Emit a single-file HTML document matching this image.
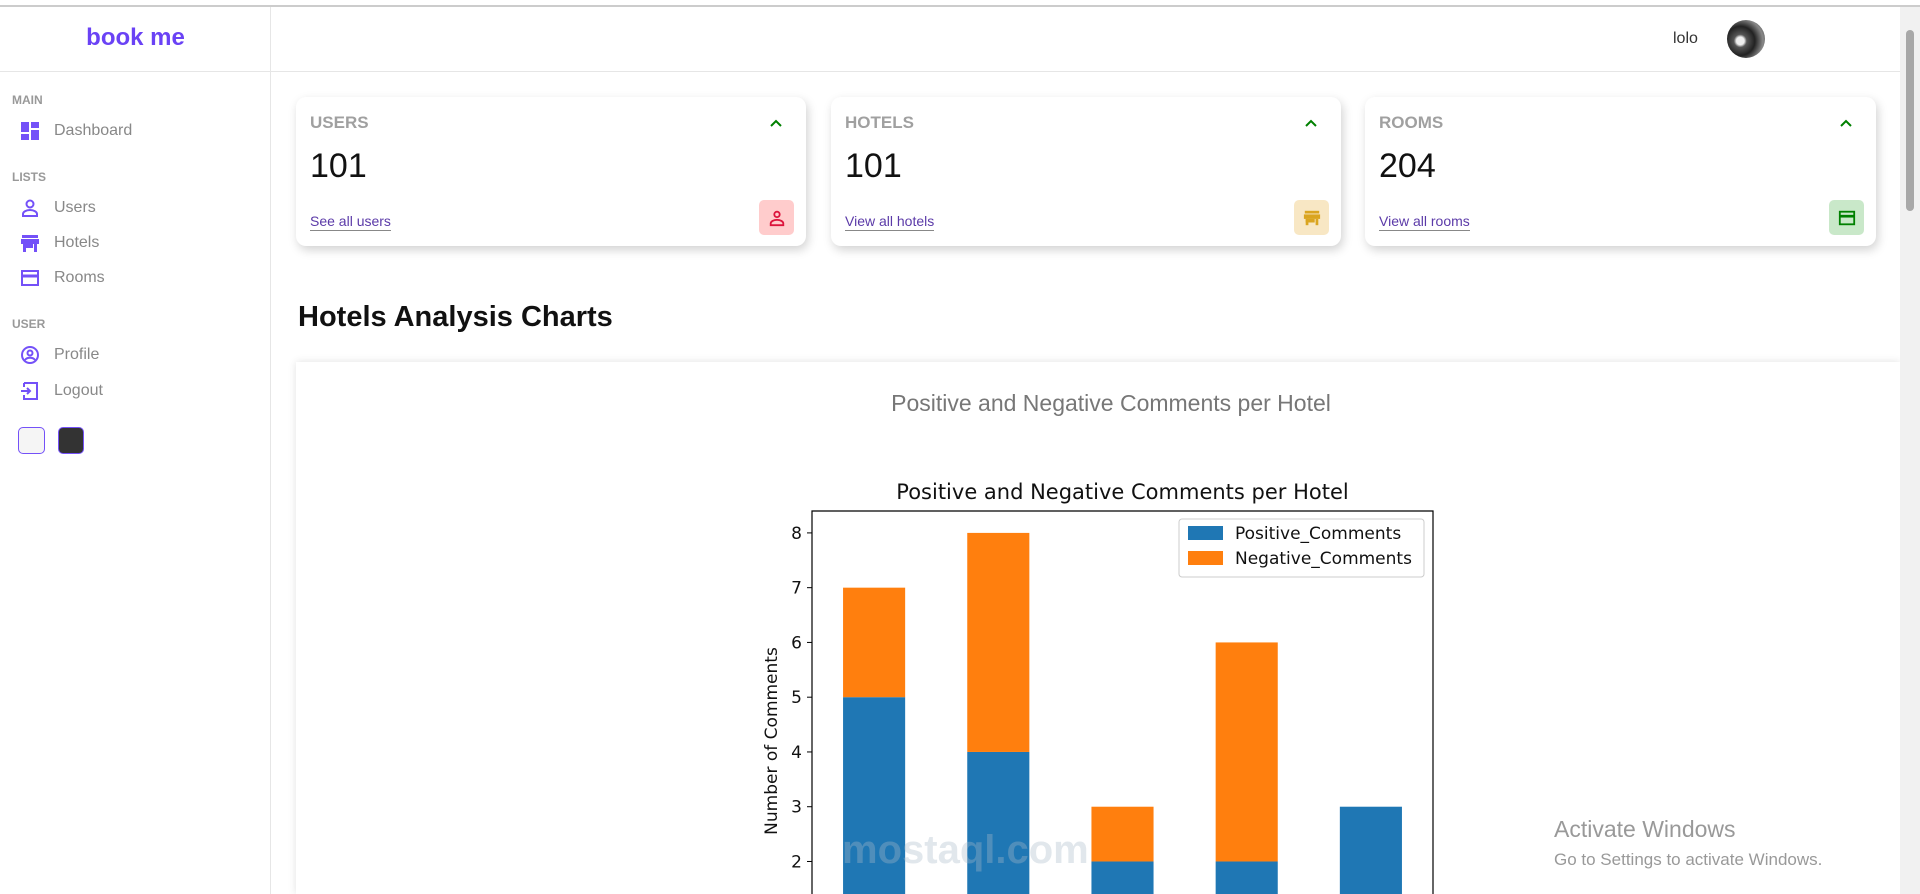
<!DOCTYPE html>
<html><head><meta charset="utf-8"><style>
*{box-sizing:border-box;margin:0;padding:0}
html,body{width:1920px;height:894px;overflow:hidden}
body{background:#fff;font-family:"Liberation Sans",sans-serif;position:relative}
.abs{position:absolute}
.side-lbl{position:absolute;left:12px;font-size:12px;font-weight:bold;color:#999}
.nav{position:absolute;left:20px;display:flex;align-items:center;font-size:16px;color:#888}
.nav svg{width:20px;height:20px;margin-right:14px}
.card{position:absolute;top:97px;width:510px;height:149px;border-radius:10px;background:#fff;box-shadow:2px 4px 10px rgba(0,0,0,.18)}
.card .t{position:absolute;left:14px;top:16px;font-size:17px;font-weight:bold;color:#a0a0a0}
.card .n{position:absolute;left:14px;top:50px;font-size:34px;font-weight:300;color:#111}
.card .l{position:absolute;left:14px;top:116px;font-size:14px;color:#5b3aa8;border-bottom:1px solid #888;padding-bottom:1px}
.card .c{position:absolute;right:22px;top:18px;width:16px;height:16px}
.card .i{position:absolute;right:12px;top:103px;width:35px;height:35px;border-radius:5px;display:flex;align-items:center;justify-content:center}
</style></head><body>
<div class="abs" style="left:0;top:5px;width:1920px;height:2px;background:#ccc"></div>
<div class="abs" style="left:0;top:7px;width:271px;height:887px;border-right:1px solid #e6e6e6"></div>
<div class="abs" style="left:0;top:71px;width:1900px;height:1px;background:#e6e6e6"></div>
<div class="abs" style="left:0;width:271px;top:24px;text-align:center;font-size:24px;font-weight:bold;color:#6a42f5">book me</div>
<div class="side-lbl" style="top:93px">MAIN</div>
<div class="nav" style="top:121px"><svg viewBox="0 0 20 20"><rect x="1" y="1" width="8" height="10" fill="#7451f8"/><rect x="11" y="1" width="8" height="6" fill="#7451f8"/><rect x="1" y="13" width="8" height="6" fill="#7451f8"/><rect x="11" y="9" width="8" height="10" fill="#7451f8"/></svg>Dashboard</div>
<div class="side-lbl" style="top:170px">LISTS</div>
<div class="nav" style="top:198px"><svg viewBox="0 0 20 20" fill="none" stroke="#7451f8" stroke-width="2"><circle cx="10" cy="6" r="3.5"/><path d="M3 18v-2c0-2 3-4 7-4s7 2 7 4v2z"/></svg>Users</div>
<div class="nav" style="top:233px"><svg viewBox="0 0 20 20"><rect x="2" y="2" width="16" height="3" fill="#7451f8"/><rect x="1" y="6" width="18" height="5" fill="#7451f8"/><rect x="3" y="11" width="3" height="8" fill="#7451f8"/><rect x="3" y="11" width="10" height="4" fill="#7451f8"/><rect x="14" y="11" width="3" height="8" fill="#7451f8"/></svg>Hotels</div>
<div class="nav" style="top:268px"><svg viewBox="0 0 20 20" fill="none" stroke="#7451f8" stroke-width="2"><rect x="2" y="3" width="16" height="14"/><line x1="2" y1="8" x2="18" y2="8" stroke-width="3"/></svg>Rooms</div>
<div class="side-lbl" style="top:317px">USER</div>
<div class="nav" style="top:345px"><svg viewBox="0 0 20 20" fill="none" stroke="#7451f8" stroke-width="2"><circle cx="10" cy="10" r="8"/><circle cx="10" cy="8" r="2.5"/><path d="M5 15c2-3 8-3 10 0"/></svg>Profile</div>
<div class="nav" style="top:381px"><svg viewBox="0 0 20 20" fill="none" stroke="#7451f8" stroke-width="2"><path d="M4 2h13v16H4v-4M4 6V2"/><path d="M1 10h9M7 7l3 3-3 3"/></svg>Logout</div>
<div class="abs" style="left:18px;top:427px;width:27px;height:27px;border:1px solid #7451f8;border-radius:5px;background:#f5f5f5"></div>
<div class="abs" style="left:58px;top:427px;width:26px;height:27px;border:1px solid #7451f8;border-radius:5px;background:#333"></div>
<div class="abs" style="left:1673px;top:30px;font-size:16px;color:#333">lolo</div>
<div class="abs" style="left:1727px;top:20px;width:38px;height:38px;border-radius:50%;background:radial-gradient(circle at 35% 55%,#eee 0 12%,#555 20%,#222 45%,#888 70%,#333)"></div>

<div class="card" style="left:296px"><div class="t">USERS</div><svg class="c" viewBox="0 0 16 16"><path d="M3 11l5-5 5 5" fill="none" stroke="green" stroke-width="2"/></svg><div class="n">101</div><div class="l">See all users</div><div class="i" style="background:#ffcccc"><svg width="18" height="18" viewBox="0 0 20 20" fill="none" stroke="crimson" stroke-width="2"><circle cx="10" cy="6" r="3"/><path d="M3 18v-2c0-2 3-4 7-4s7 2 7 4v2z"/></svg></div></div>
<div class="card" style="left:831px"><div class="t">HOTELS</div><svg class="c" viewBox="0 0 16 16"><path d="M3 11l5-5 5 5" fill="none" stroke="green" stroke-width="2"/></svg><div class="n">101</div><div class="l">View all hotels</div><div class="i" style="background:#f8e7c4"><svg width="18" height="18" viewBox="0 0 20 20"><rect x="2" y="2" width="16" height="3" fill="goldenrod"/><rect x="1" y="6" width="18" height="5" fill="goldenrod"/><rect x="3" y="11" width="3" height="7" fill="goldenrod"/><rect x="3" y="11" width="10" height="4" fill="goldenrod"/><rect x="14" y="11" width="3" height="7" fill="goldenrod"/></svg></div></div>
<div class="card" style="left:1365px;width:511px"><div class="t">ROOMS</div><svg class="c" viewBox="0 0 16 16"><path d="M3 11l5-5 5 5" fill="none" stroke="green" stroke-width="2"/></svg><div class="n">204</div><div class="l">View all rooms</div><div class="i" style="background:#c9e8c9"><svg width="18" height="18" viewBox="0 0 20 20" fill="none" stroke="green" stroke-width="2"><rect x="2" y="3" width="16" height="14"/><line x1="2" y1="8" x2="18" y2="8" stroke-width="3"/></svg></div></div>

<div class="abs" style="left:298px;top:301px;font-size:29px;font-weight:bold;color:#111">Hotels Analysis Charts</div>
<div class="abs" style="left:296px;top:362px;width:1604px;height:532px;background:#fff;box-shadow:0 0 8px rgba(0,0,0,.12)"></div>
<div class="abs" style="left:296px;width:1630px;top:390px;text-align:center;font-size:23px;color:#777">Positive and Negative Comments per Hotel</div>

<svg class="abs" id="chart" style="left:0;top:0;overflow:hidden" width="1920" height="894" font-family="DejaVu Sans, sans-serif"></svg>

<div class="abs" style="left:842px;top:828px;font-size:40px;font-weight:bold;color:rgba(170,185,200,.35)">mostaql.com</div>
<div class="abs" style="left:1554px;top:816px;font-size:23px;color:#999">Activate Windows</div>
<div class="abs" style="left:1554px;top:850px;font-size:17px;color:#999">Go to Settings to activate Windows.</div>
<div class="abs" style="left:1900px;top:7px;width:20px;height:887px;background:#f1f1f1"></div>
<div class="abs" style="left:1906px;top:30px;width:8px;height:181px;border-radius:4px;background:#a8a8a8"></div>

<script>
const hotels=["H1","H2","H3","H4","H5"];
const positive=[5,4,2,2,3];
const negative=[2,4,1,4,0];
const yTicks=[0,1,2,3,4,5,6,7,8];
const NS="http://www.w3.org/2000/svg";
const svg=document.getElementById('chart');
const L=812,R=1433,T=511,B=971,yMax=8.4,VIEW=894;
const xs=i=>L+(i+0.5)*(R-L)/hotels.length;
const ys=v=>B-v*(B-T)/yMax;
const clip=y=>Math.min(y,VIEW);
const bw=(R-L)/hotels.length*0.5;
function mk(tag,a){const e=document.createElementNS(NS,tag);for(const k in a)e.setAttribute(k,a[k]);svg.appendChild(e);return e;}
hotels.forEach((h,i)=>{
 const pt=ys(positive[i]),pb=clip(ys(0));
 const p=mk('rect',{x:xs(i)-bw/2,y:pt,width:bw,height:Math.max(0,pb-pt),fill:'#1f77b4'});
 
 
 const nt=ys(positive[i]+negative[i]),nb=clip(ys(positive[i]));
 const n=mk('rect',{x:xs(i)-bw/2,y:nt,width:bw,height:Math.max(0,nb-nt),fill:'#ff7f0e'});
 
 
});
const ax=mk('path',{d:`M${L},${VIEW}V${T}H${R}V${VIEW}`,fill:'none',stroke:'#000','stroke-width':1.2});


yTicks.forEach(v=>{
 const y=ys(v);
 if(y>VIEW-8) return;
 mk('line',{x1:L-5,x2:L,y1:y,y2:y,stroke:'#000'});
 const t=mk('text',{x:L-10,y:y+6,'text-anchor':'end','font-size':17,fill:'#111'});
 t.textContent=v;
 
 
});
const yl=mk('text',{x:0,y:0,'text-anchor':'middle','font-size':17,fill:'#111',transform:`translate(777,${(T+B)/2}) rotate(-90)`});
yl.textContent='Number of Comments';


const tt=mk('text',{x:(L+R)/2,y:499,'text-anchor':'middle','font-size':21,fill:'#111'});
tt.textContent='Positive and Negative Comments per Hotel';


const lg=mk('rect',{x:1179,y:519,width:245,height:58,rx:3,fill:'#fff',stroke:'#ccc'});


[['Positive_Comments','#1f77b4',533],['Negative_Comments','#ff7f0e',558]].forEach(([s,c,y])=>{
 mk('rect',{x:1188,y:y-7,width:35,height:14,fill:c});
 const t=mk('text',{x:1235,y:y+6,'font-size':17,fill:'#111'});
 t.textContent=s;
 
 
});
</script>
</body></html>
